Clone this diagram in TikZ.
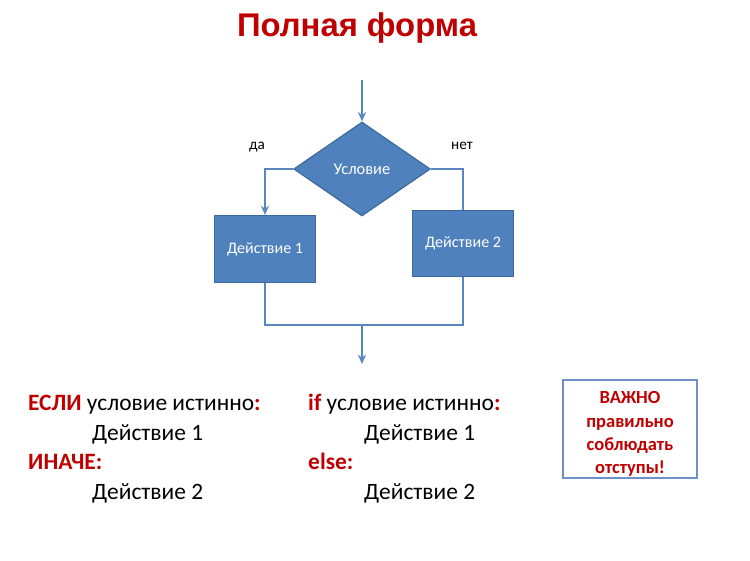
\documentclass[tikz,border=0pt]{standalone}
\usepackage{fontspec}
\setmainfont{Carlito}
\newfontfamily\titlefont{Liberation Sans}
\usepackage{tikz}
\usetikzlibrary{arrows.meta, positioning, shapes.geometric}
\definecolor{flowblue}{HTML}{4F81BD}
\definecolor{flowedge}{HTML}{3D6A9E}
\definecolor{linkblue}{HTML}{5B87C0}
\definecolor{darkred}{HTML}{C00000}
\definecolor{noteframe}{HTML}{6F8FC8}

\begin{document}
\begin{tikzpicture}[
    x=0.03cm, y=-0.03cm,
    block/.style={draw=flowedge, fill=flowblue, line width=1pt, minimum width=3.05cm, minimum height=2.0cm, text=white, font=\fontsize{13.7}{16}\selectfont},
    cond/.style={diamond, draw=flowedge, fill=flowblue, line width=1pt, aspect=1.46, inner sep=0pt, minimum width=4.1cm, minimum height=2.82cm, text=white, font=\fontsize{14}{16}\selectfont},
    link/.style={draw=linkblue, line width=1.6pt},
    lbl/.style={font=\fontsize{13}{15}\selectfont, text=black},
    code/.style={font=\fontsize{20}{24}\selectfont, anchor=base west, inner sep=0pt},
    >={Stealth[length=8pt, width=7pt]}
]
    \useasboundingbox (0,0) rectangle (750,561);

    % title
    \node[font=\titlefont\fontsize{28}{32}\selectfont\bfseries, text=darkred] (title) at (357,28) {Полная форма};

    % flowchart
    \coordinate (entry) at (362,80);
    \node[cond] (test) at (362,169) {Условие};
    \node[block] (act1) at (265,249) {Действие 1};
    \node[block] (act2) at (463,243.5) {Действие 2};
    \coordinate (merge) at (362,325);
    \coordinate (exit) at (362,364);

    \draw[link, ->] (entry) -- (test.north);
    \draw[link, ->] (test.west) -| (act1.north);
    \draw[link] (test.east) -| (act2.north);
    \draw[link] (act1.south) -- (act1.south |- merge) -- (act2.south |- merge) -- (act2.south);
    \draw[link, ->] (merge) -- (exit);

    \node[lbl] (yes) at (257,147) {да};
    \node[lbl] (no) at (462,146) {нет};

    % pseudo code
    \node[code] (if1) at (28,410) {\textcolor{darkred}{\bfseries ЕСЛИ} условие истинно\textcolor{darkred}{\bfseries :}};
    \node[code] (do1) at (92,440) {Действие 1};
    \node[code] (else1) at (28,469) {\textcolor{darkred}{\bfseries ИНАЧЕ:}};
    \node[code] (do2) at (92,499) {Действие 2};

    \node[code] (if2) at (308,410) {\textcolor{darkred}{\bfseries if} условие истинно\textcolor{darkred}{\bfseries :}};
    \node[code] (do3) at (364,440) {Действие 1};
    \node[code] (else2) at (308,469) {\textcolor{darkred}{\bfseries else:}};
    \node[code] (do4) at (364,499) {Действие 2};

    % note
    \node[draw=noteframe, line width=1.2pt, inner ysep=0pt, minimum width=4.02cm, minimum height=2.94cm, align=center, text=darkred, font=\fontsize{15.8}{19.8}\selectfont\bfseries] (note) at (630,429) {\rule{0pt}{19pt}ВАЖНО\\правильно\\соблюдать\\отступы!};
\end{tikzpicture}
\end{document}
